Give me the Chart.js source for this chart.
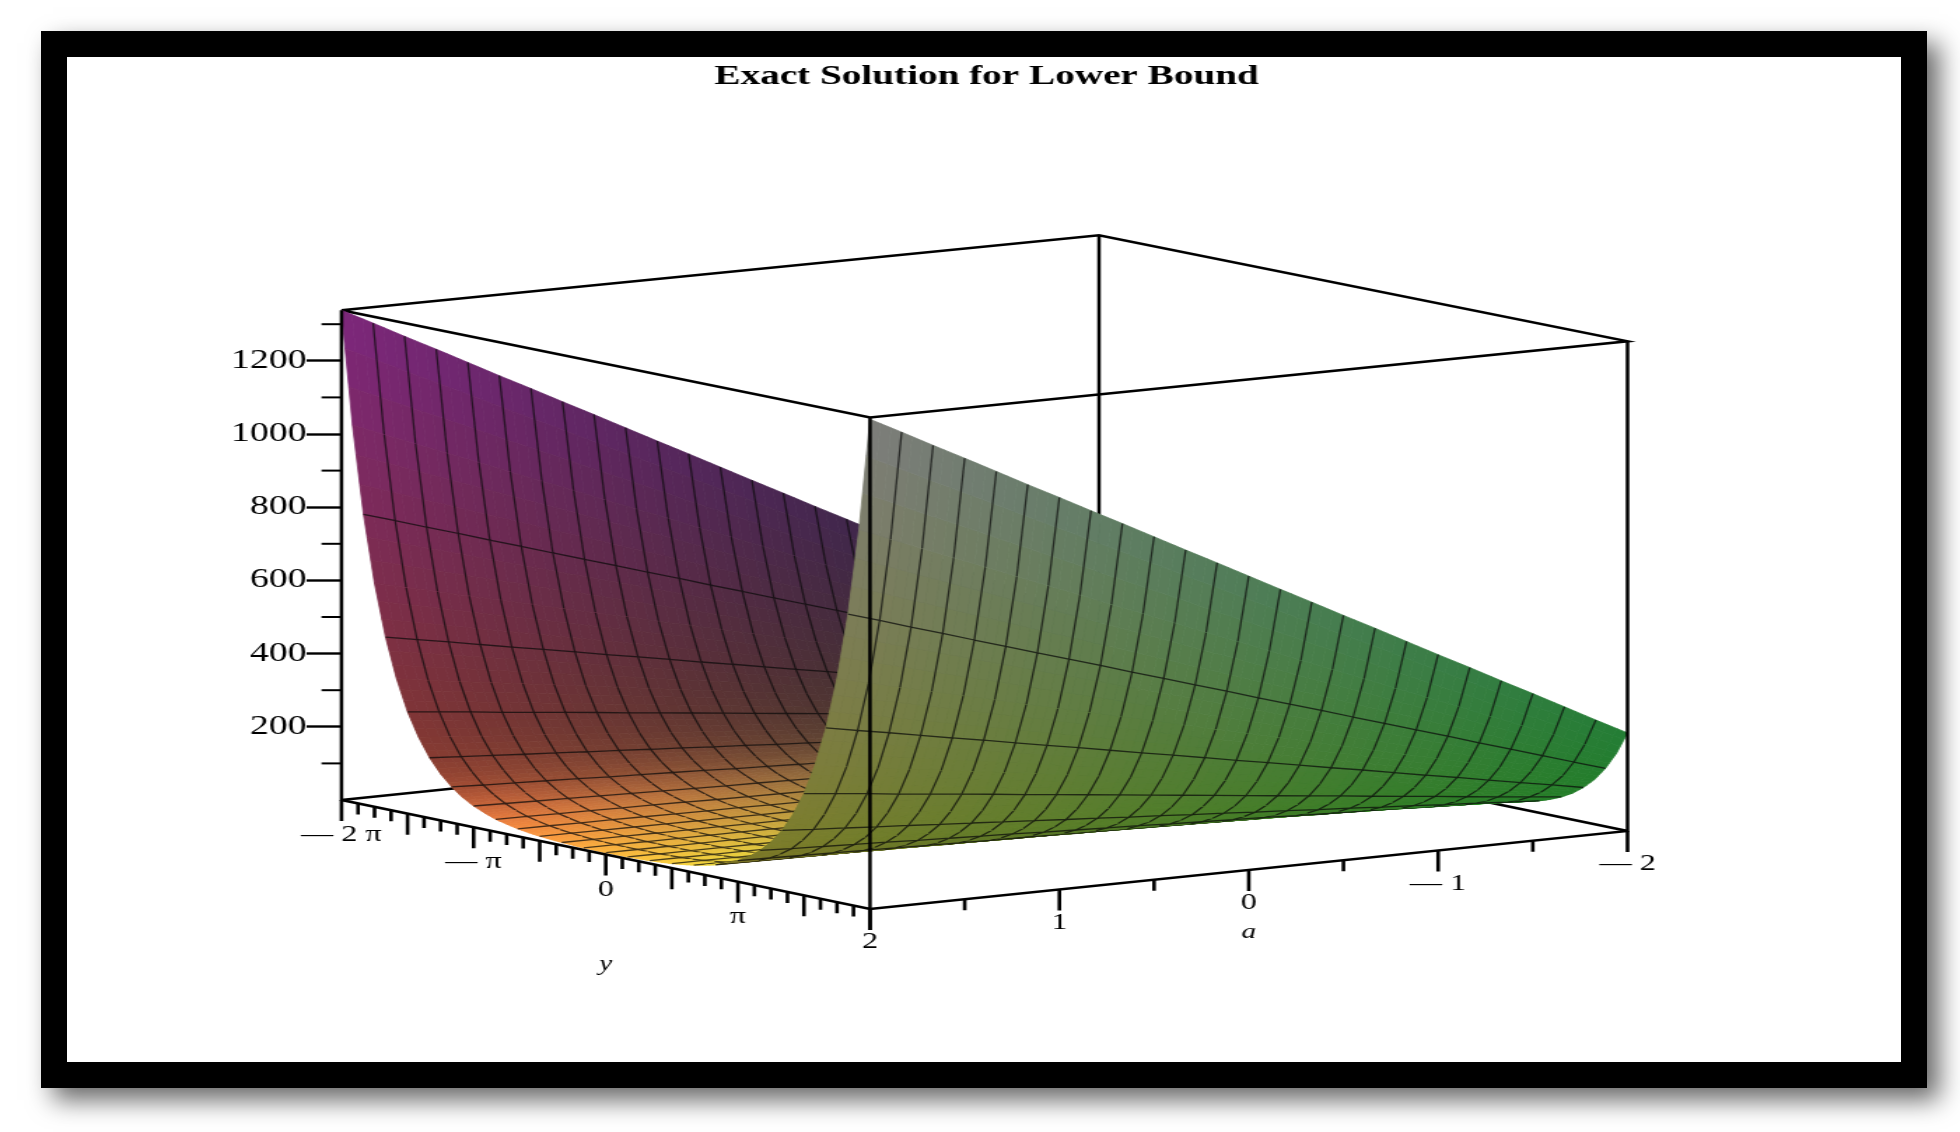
<!DOCTYPE html>
<html>
<head>
<meta charset="utf-8">
<title>Exact Solution for Lower Bound</title>
<script src="https://cdn.jsdelivr.net/npm/chart.js@4"></script>
<style>
    html, body { margin: 0; padding: 0; background: #fff; overflow: hidden; width: 1960px; height: 1132px; }
    #frame {
        position: absolute; left: 41px; top: 31px; width: 1834px; height: 1005px;
        border: 26px solid #000; background: #fff;
        box-shadow: 12px 12px 24px rgba(0, 0, 0, .6);
    }
    /* the original picture is stretched sideways, text and lines too */
    #chart { position: absolute; left: 0; top: 0; transform-origin: 0 0; transform: scaleX(1.4); }
</style>
</head>
<body>
<div id="frame"></div>
<canvas id="chart" width="1400" height="1132"></canvas>
<script>
    // Data
    const aValues = [2, 1.833, 1.667, 1.5, 1.333, 1.167, 1, 0.833, 0.667, 0.5, 0.333, 0.167, 0,
        -0.167, -0.333, -0.5, -0.667, -0.833, -1, -1.167, -1.333, -1.5, -1.667, -1.833, -2];
    const yValues = [-6.283, -6.021, -5.760, -5.498, -5.236, -4.974, -4.712, -4.451, -4.189, -3.927, -3.665, -3.403,
        -3.142, -2.880, -2.618, -2.356, -2.094, -1.833, -1.571, -1.309, -1.047, -0.785, -0.524, -0.262, 0,
        0.262, 0.524, 0.785, 1.047, 1.309, 1.571, 1.833, 2.094, 2.356, 2.618, 2.880,
        3.142, 3.403, 3.665, 3.927, 4.189, 4.451, 4.712, 4.974, 5.236, 5.498, 5.760, 6.021, 6.283];

    // one row per a value, columns for |y| = 0 ... 2 pi (the surface is the same on both sides of y = 0)
    const zRows = [
        [5, 5.2, 5.7, 6.6, 8, 9.9, 12.5, 16, 20.6, 27, 34, 45, 58, 75, 98, 127, 165, 215, 278, 362, 470, 611, 793, 1030, 1338],
        [4.8, 5, 5.5, 6.4, 7.7, 9.6, 12.1, 15.5, 20, 26, 33, 43, 56, 73, 94, 123, 159, 207, 269, 349, 454, 590, 767, 996, 1294],
        [4.7, 4.8, 5.3, 6.2, 7.5, 9.3, 11.7, 14.9, 19, 25, 32, 42, 54, 70, 91, 119, 154, 200, 260, 337, 439, 570, 740, 961, 1249],
        [4.5, 4.7, 5.1, 6, 7.2, 8.9, 11.3, 14.4, 19, 24, 31, 40, 52, 68, 88, 114, 148, 193, 250, 325, 423, 549, 714, 927, 1205],
        [4.3, 4.5, 4.9, 5.7, 6.9, 8.6, 10.9, 13.9, 18, 23, 30, 39, 50, 65, 85, 110, 143, 186, 241, 313, 407, 529, 687, 893, 1160],
        [4.2, 4.3, 4.8, 5.5, 6.7, 8.3, 10.5, 13.3, 17, 22, 29, 37, 48, 63, 81, 106, 137, 179, 232, 301, 392, 509, 661, 858, 1115],
        [4, 4.1, 4.6, 5.3, 6.4, 7.9, 10, 12.8, 16, 21, 28, 36, 46, 60, 78, 102, 132, 172, 223, 289, 376, 488, 634, 824, 1071],
        [3.8, 4, 4.4, 5.1, 6.1, 7.6, 9.6, 12.3, 16, 20, 26, 34, 44, 58, 75, 97, 126, 164, 213, 277, 360, 468, 608, 790, 1026],
        [3.7, 3.8, 4.2, 4.9, 5.9, 7.3, 9.2, 11.7, 15, 20, 25, 33, 42, 55, 72, 93, 121, 157, 204, 265, 345, 448, 582, 755, 982],
        [3.5, 3.6, 4, 4.6, 5.6, 6.9, 8.8, 11.2, 14, 19, 24, 31, 41, 53, 68, 89, 115, 150, 195, 253, 329, 427, 555, 721, 937],
        [3.3, 3.4, 3.8, 4.4, 5.3, 6.6, 8.4, 10.7, 14, 18, 23, 30, 39, 50, 65, 85, 110, 143, 186, 241, 313, 407, 529, 687, 892],
        [3.2, 3.3, 3.6, 4.2, 5.1, 6.3, 7.9, 10.1, 13, 17, 22, 28, 37, 48, 62, 80, 104, 136, 176, 229, 298, 387, 502, 652, 848],
        [3, 3.1, 3.4, 4, 4.8, 6, 7.5, 9.6, 12, 16, 21, 27, 35, 45, 59, 76, 99, 129, 167, 217, 282, 366, 476, 618, 803],
        [2.8, 2.9, 3.2, 3.8, 4.5, 5.6, 7.1, 9.1, 12, 15, 20, 25, 33, 43, 55, 72, 93, 122, 158, 205, 266, 346, 449, 584, 758],
        [2.7, 2.8, 3, 3.5, 4.3, 5.3, 6.7, 8.5, 11, 14, 18, 24, 31, 40, 52, 68, 88, 114, 148, 193, 251, 326, 423, 549, 714],
        [2.5, 2.6, 2.9, 3.3, 4, 5, 6.3, 8, 10, 13, 17, 22, 29, 38, 49, 64, 82, 107, 139, 181, 235, 305, 397, 515, 669],
        [2.3, 2.4, 2.7, 3.1, 3.7, 4.6, 5.9, 7.5, 10, 12, 16, 21, 27, 35, 46, 59, 77, 100, 130, 169, 219, 285, 370, 481, 625],
        [2.2, 2.2, 2.5, 2.9, 3.5, 4.3, 5.4, 6.9, 9, 12, 15, 19, 25, 33, 42, 55, 71, 93, 121, 157, 204, 265, 344, 446, 580],
        [2, 2.1, 2.3, 2.7, 3.2, 4, 5, 6.4, 8, 11, 14, 18, 23, 30, 39, 51, 66, 86, 111, 145, 188, 244, 317, 412, 535],
        [1.8, 1.9, 2.1, 2.4, 2.9, 3.6, 4.6, 5.9, 8, 10, 13, 16, 21, 28, 36, 47, 60, 79, 102, 133, 172, 224, 291, 378, 491],
        [1.7, 1.7, 1.9, 2.2, 2.7, 3.3, 4.2, 5.3, 7, 9, 11, 15, 19, 25, 33, 42, 55, 72, 93, 121, 157, 204, 264, 343, 446],
        [1.5, 1.6, 1.7, 2, 2.4, 3, 3.8, 4.8, 6, 8, 10, 13, 17, 23, 29, 38, 49, 64, 83, 108, 141, 183, 238, 309, 402],
        [1.3, 1.4, 1.5, 1.8, 2.1, 2.6, 3.3, 4.3, 5, 7, 9, 12, 15, 20, 26, 34, 44, 57, 74, 96, 125, 163, 211, 275, 357],
        [1.2, 1.2, 1.3, 1.5, 1.9, 2.3, 2.9, 3.7, 5, 6, 8, 10, 14, 18, 23, 30, 38, 50, 65, 84, 110, 142, 185, 240, 312],
        [1, 1, 1.1, 1.3, 1.6, 2, 2.5, 3.2, 4, 5, 7, 9, 12, 15, 20, 25, 33, 43, 56, 72, 94, 122, 159, 206, 268]
    ];

    const zMajorTicks = [200, 400, 600, 800, 1000, 1200];
    const zMinorTicks = [100, 300, 500, 700, 900, 1100, 1300];
    const zTop = 1338;

    const yLongTicks = [-6.283, -4.712, -3.142, -1.571, 0, 1.571, 3.142, 4.712, 6.283];
    const yShortTicks = [-5.890, -5.498, -5.105, -4.320, -3.927, -3.534, -2.749, -2.356, -1.963, -1.178, -0.785, -0.393,
        0.393, 0.785, 1.178, 1.963, 2.356, 2.749, 3.534, 3.927, 4.320, 5.105, 5.498, 5.890];
    const yLabelValues = [-6.283, -3.142, 0, 3.142];
    const yTickLabels = ['\u2014 2 \u03c0', '\u2014 \u03c0', '0', '\u03c0'];

    const aLongTicks = [2, 1, 0, -1, -2];
    const aShortTicks = [1.5, 0.5, -0.5, -1.5];
    const aTickLabels = ['2', '1', '0', '\u2014 1', '\u2014 2'];


    // Fixed view of the box: the x scale runs in picture pixels, the y scale in z units
    const pxPerZ = 0.366;
    const groundZ = 800;
    const stretch = 1.4;
    const yMax = 6.283;
    const rowCount = aValues.length - 1;
    const colCount = yValues.length - 1;

    function project(a, y, z) {
        const u = (2 - a) / 4;
        const v = (y + yMax) / (2 * yMax);
        return {
            x: 341.5 + u * 757.5 + v * 528.5,
            y: z + (u * 78 - v * 109) / pxPerZ
        };
    }

    function below(p, px) {
        return { x: p.x, y: p.y - px / pxPerZ };
    }

    function zAt(i, j) {
        return zRows[i][Math.abs(j - colCount / 2)];
    }

    function node(i, j) {
        return project(aValues[i], yValues[j], zAt(i, j));
    }


    // Colour of a node: red follows a, green follows y, blue follows z, then the lighting
    function nodeColor(i, j, topSide) {
        const i0 = Math.max(i - 1, 0), i1 = Math.min(i + 1, rowCount);
        const j0 = Math.max(j - 1, 0), j1 = Math.min(j + 1, colCount);
        const sy = (zAt(i, j1) - zAt(i, j0)) / zTop / ((j1 - j0) / colCount);
        const sa = (zAt(i1, j) - zAt(i0, j)) / zTop / ((i1 - i0) / rowCount);
        const nz = 1 / Math.sqrt(1 + sy * sy + sa * sa);
        const t = topSide ? Math.pow(nz, 4) : 0;
        const base = 0.14 + 0.1 * t;
        const gain = 0.35 + 0.4 * t;
        const r = (aValues[i] + 2) / 4;
        const g = Math.min(1, 0.03 + 1.19 * (yValues[j] + yMax) / (2 * yMax));
        const b = zAt(i, j) / zTop;
        return [r, g, b].map(function (c) {
            return Math.min(255, 255 * (base + gain * c));
        });
    }

    function isTopSide(i, j) {
        const p = node(i, j), q = node(i + 1, j), r = node(i, j + 1);
        const ax = q.x - p.x, ay = -(q.y - p.y);
        const bx = r.x - p.x, by = -(r.y - p.y);
        return (ax * by - ay * bx) > 0;
    }


    // Datasets, in painting order from the back of the box to the front
    const datasets = [];

    function addLine(points, width, color) {
        const ds = {
            data: points,
            showLine: true,
            pointRadius: 0,
            borderWidth: width,
            borderColor: color,
            tension: 0,
            clip: false,
            order: -datasets.length
        };
        datasets.push(ds);
        return ds;
    }

    const cornerL = project(2, -yMax, 0), cornerF = project(2, yMax, 0);
    const cornerR = project(-2, yMax, 0), cornerB = project(-2, -yMax, 0);
    const topL = project(2, -yMax, zTop), topF = project(2, yMax, 1343);
    const topR = project(-2, yMax, zTop), topB = project(-2, -yMax, 1330);

    const meshColor = 'rgba(10, 10, 10, .72)';
    const noColor = 'rgba(0, 0, 0, 0)';

    // behind the surface
    addLine([cornerL, cornerB, cornerR], 2.5, '#000');
    addLine([cornerB, topB], 2.5, '#000');
    addLine([topL, topB, topR, topF, topL], 2.5, '#000');

    // the surface, one quad per cell, back to front
    // a cell draws its near a-wise edge on every other y, and the y-wise edge it shares with the cell painted before it
    for (let j = 0; j < colCount; j++) {
        for (let i = rowCount - 1; i >= 0; i--) {
            const top = isTopSide(i, j);
            const cell = addLine([node(i, j), node(i + 1, j), node(i + 1, j + 1), node(i, j + 1), node(i, j)],
                1.3, meshColor);
            const edges = [j % 2 === 0 && j > 0, i + 1 < rowCount, false, false];
            cell.segment = {
                borderColor: function (c) {
                    return edges[c.p0DataIndex] ? meshColor : noColor;
                }
            };
            cell.cellColors = [nodeColor(i, j, top), nodeColor(i + 1, j, top),
                nodeColor(i + 1, j + 1, top), nodeColor(i, j + 1, top)];
        }
    }

    // in front of the surface
    addLine([topL, cornerL, cornerF, cornerR, topR], 2.5, '#000');
    addLine([cornerF, topF], 2.5, '#000');

    zMinorTicks.forEach(function (z) {
        const p = project(2, -yMax, z);
        addLine([p, { x: p.x - 20, y: p.y }], 2, '#000');
    });
    yLongTicks.forEach(function (y) {
        const p = project(2, y, 0);
        addLine([p, below(p, 21)], 2.6, '#000');
    });
    yShortTicks.forEach(function (y) {
        const p = project(2, y, 0);
        addLine([p, below(p, 11)], 2.6, '#000');
    });
    aLongTicks.forEach(function (a) {
        const p = project(a, yMax, 0);
        addLine([p, below(p, 21)], 2.6, '#000');
    });
    aShortTicks.forEach(function (a) {
        const p = project(a, yMax, 0);
        addLine([p, below(p, 11)], 2.6, '#000');
    });


    // Fills a cell from the points the scales placed, blending the corner colours
    const cellFill = {
        id: 'cellFill',
        beforeDatasetDraw: function (chart, args) {
            const ds = chart.data.datasets[args.index];
            if (!ds.cellColors) {
                return;
            }
            const pts = args.meta.data, c = ds.cellColors, n = 3, ctx = chart.ctx;
            const mix = function (s, t, get) {
                return (1 - t) * ((1 - s) * get(0) + s * get(1)) + t * ((1 - s) * get(3) + s * get(2));
            };
            const at = function (s, t) {
                return {
                    x: mix(s, t, function (k) { return pts[k].x; }),
                    y: mix(s, t, function (k) { return pts[k].y; })
                };
            };
            ctx.save();
            ctx.lineWidth = 0.8;
            for (let u = 0; u < n; u++) {
                for (let v = 0; v < n; v++) {
                    const s = (u + 0.5) / n, t = (v + 0.5) / n;
                    const rgb = [0, 1, 2].map(function (m) {
                        return Math.round(mix(s, t, function (k) { return c[k][m]; }));
                    });
                    const col = 'rgb(' + rgb.join(',') + ')';
                    const a = at(u / n, v / n), b = at((u + 1) / n, v / n);
                    const d = at((u + 1) / n, (v + 1) / n), e = at(u / n, (v + 1) / n);
                    ctx.beginPath();
                    ctx.moveTo(a.x, a.y);
                    ctx.lineTo(b.x, b.y);
                    ctx.lineTo(d.x, d.y);
                    ctx.lineTo(e.x, e.y);
                    ctx.closePath();
                    ctx.fillStyle = col;
                    ctx.strokeStyle = col;
                    ctx.fill();
                    ctx.stroke();
                }
            }
            ctx.restore();
        }
    };

    // Tick labels of the two ground axes
    const groundLabels = {
        id: 'groundLabels',
        afterDatasetsDraw: function (chart) {
            const ctx = chart.ctx, sx = chart.scales.x, sy = chart.scales.y;
            const put = function (text, p, px) {
                ctx.fillText(text, sx.getPixelForValue(p.x), sy.getPixelForValue(p.y) + px);
            };
            ctx.save();
            ctx.fillStyle = '#000';
            ctx.textAlign = 'center';
            ctx.textBaseline = 'middle';
            ctx.font = '23px "Liberation Serif"';
            yLabelValues.forEach(function (y, k) {
                put(yTickLabels[k], project(2, y, 0), 35);
            });
            aLongTicks.forEach(function (a, k) {
                put(aTickLabels[k], project(a, yMax, 0), 33);
            });
            ctx.font = 'italic 21px "Liberation Serif"';
            put('y', project(2, 0, 0), 110);
            put('a', project(0, yMax, 0), 62);
            ctx.restore();
        }
    };


    // Chart
    const ctx = document.getElementById('chart').getContext('2d');
    const chartTop = 60 + 28 * 1.2;
    const chartBottom = 1092;

    new Chart(ctx, {
        type: 'scatter',
        data: { datasets: datasets },
        plugins: [cellFill, groundLabels],
        options: {
            responsive: false,
            animation: false,
            devicePixelRatio: 1,
            events: [],
            layout: { padding: { left: 341.5 / stretch - 234.6, right: 0, top: 0, bottom: 40 } },
            plugins: {
                legend: { display: false },
                tooltip: { enabled: false },
                title: {
                    display: true,
                    text: 'Exact Solution for Lower Bound',
                    color: '#000',
                    font: { family: '"Liberation Serif"', size: 28, weight: 'bold' },
                    padding: { top: 60, bottom: 0 }
                }
            },
            scales: {
                x: { type: 'linear', display: false, min: 341.5, max: 1960 },
                y: {
                    type: 'linear',
                    position: 'left',
                    min: (groundZ - chartBottom) / pxPerZ,
                    max: (groundZ - chartTop) / pxPerZ,
                    afterFit: function (scale) {
                        scale.width = 234.6;
                    },
                    border: { display: false },
                    grid: {
                        drawOnChartArea: false,
                        tickLength: 25,
                        tickWidth: 2.4,
                        tickColor: function (c) {
                            return zMajorTicks.includes(c.tick.value) ? '#000' : noColor;
                        }
                    },
                    ticks: {
                        stepSize: 200,
                        includeBounds: false,
                        autoSkip: false,
                        maxRotation: 0,
                        padding: 0,
                        color: '#000',
                        font: { family: '"Liberation Serif"', size: 27 },
                        callback: function (value) {
                            return zMajorTicks.includes(value) ? String(value) : '';
                        }
                    }
                }
            }
        }
    });
</script>
</body>
</html>
